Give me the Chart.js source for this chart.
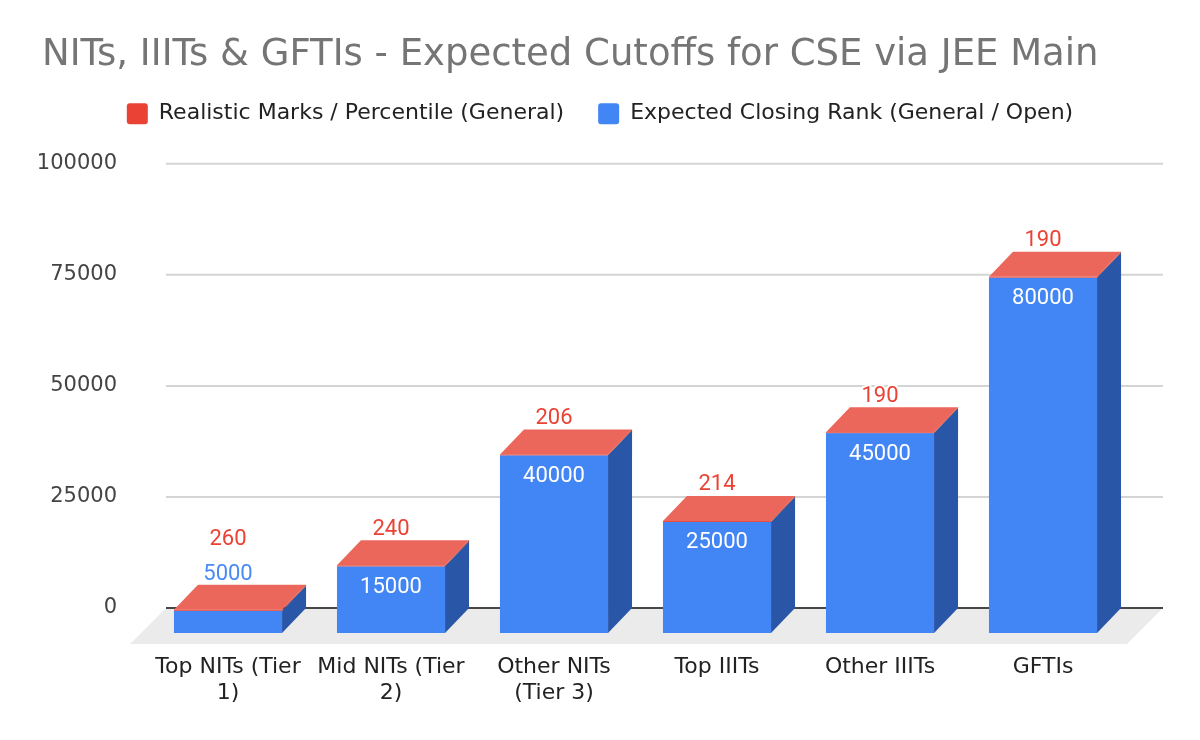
<!DOCTYPE html>
<html>
<head>
<meta charset="utf-8">
<title>NITs, IIITs &amp; GFTIs - Expected Cutoffs for CSE via JEE Main</title>
<script src="https://cdn.jsdelivr.net/npm/chart.js@4.4.1/dist/chart.umd.min.js"></script>
<style>
    html, body { margin: 0; padding: 0; background: #ffffff; }
    #wrap { width: 1200px; height: 740px; }
</style>
</head>
<body>
<div id="wrap"><canvas id="cutoffChart" width="1200" height="740"></canvas></div>
<script>
// chart data
const categories = [
    ['Top NITs (Tier', '1)'],
    ['Mid NITs (Tier', '2)'],
    ['Other NITs', '(Tier 3)'],
    'Top IIITs',
    'Other IIITs',
    'GFTIs'
];
const closingRanks = [5000, 15000, 40000, 25000, 45000, 80000];
const realisticMarks = [260, 240, 206, 214, 190, 190];
const yTicks = [0, 25000, 50000, 75000, 100000];

const seriesNames = ['Expected Closing Rank (General / Open)', 'Realistic Marks / Percentile (General)'];

// 3D look: depth of the boxes and of the floor (px)
const DX = 24;
const DY = 25;
const FLOOR = 36;

const faceColors = [
    { front: '#4285F4', side: '#2A56A7', top: '#5B95F5' },   // blue series
    { front: '#EA4335', side: '#A3322A', top: '#EC675B' }    // red series
];

const baseFont = "'DejaVu Sans', 'Liberation Sans', sans-serif";
const labelFont = "Roboto, 'Liberation Sans', sans-serif";

// push the legend down a bit so the plot starts lower
const legendGap = {
    id: 'legendGap',
    beforeInit(chart) {
        const originalFit = chart.legend.fit;
        chart.legend.fit = function fit() {
            originalFit.bind(chart.legend)();
            this.height += 29;
        };
    },
    // title starts a little right of the legend/axis block
    afterLayout(chart) {
        if (chart.titleBlock) {
            chart.titleBlock.left += 12;
            chart.titleBlock.right += 12;
        }
    }
};

function drawBox(ctx, bar, colors, withTop) {
    const { x, y, base, width } = bar.getProps(['x', 'y', 'base', 'width'], true);
    const left = x - width / 2 - DX;
    const right = x + width / 2 - DX;
    const top = y + DY;
    const bottom = base + DY;

    // side face
    ctx.fillStyle = colors.side;
    ctx.beginPath();
    ctx.moveTo(right, top);
    ctx.lineTo(right + DX, top - DY);
    ctx.lineTo(right + DX, bottom - DY);
    ctx.lineTo(right, bottom);
    ctx.closePath();
    ctx.fill();

    // front face
    ctx.fillStyle = colors.front;
    ctx.fillRect(left, top, right - left, bottom - top);

    if (withTop) {
        ctx.fillStyle = colors.top;
        ctx.beginPath();
        ctx.moveTo(left, top);
        ctx.lineTo(left + DX, top - DY);
        ctx.lineTo(right + DX, top - DY);
        ctx.lineTo(right, top);
        ctx.closePath();
        ctx.fill();
    }
}

function haloText(ctx, text, x, y, color) {
    ctx.lineWidth = 4;
    ctx.strokeStyle = '#ffffff';
    ctx.lineJoin = 'round';
    ctx.strokeText(text, x, y);
    ctx.fillStyle = color;
    ctx.fillText(text, x, y);
}

const boxes3d = {
    id: 'boxes3d',
    beforeDatasetsDraw(chart) {
        const { ctx, chartArea, scales: { y } } = chart;
        const gridLeft = chartArea.left - 4.5;
        const gridRight = chartArea.right + 14.5;
        const y0 = y.getPixelForValue(0);

        ctx.save();

        // back wall gridlines
        ctx.strokeStyle = '#d4d4d4';
        ctx.lineWidth = 2;
        y.ticks.forEach(t => {
            if (t.value === 0) return;
            const py = y.getPixelForValue(t.value);
            ctx.beginPath();
            ctx.moveTo(gridLeft, py);
            ctx.lineTo(gridRight, py);
            ctx.stroke();
        });

        // floor
        ctx.fillStyle = '#ebebeb';
        ctx.beginPath();
        ctx.moveTo(gridLeft, y0);
        ctx.lineTo(gridRight, y0);
        ctx.lineTo(gridRight - FLOOR, y0 + FLOOR);
        ctx.lineTo(gridLeft - FLOOR, y0 + FLOOR);
        ctx.closePath();
        ctx.fill();

        // zero line
        ctx.strokeStyle = '#474747';
        ctx.lineWidth = 2;
        ctx.beginPath();
        ctx.moveTo(gridLeft, y0);
        ctx.lineTo(gridRight, y0);
        ctx.stroke();

        const blueBars = chart.getDatasetMeta(0).data;
        const redBars = chart.getDatasetMeta(1).data;

        categories.forEach((cat, i) => {
            drawBox(ctx, blueBars[i], faceColors[0], false);
            drawBox(ctx, redBars[i], faceColors[1], true);
        });

        // value labels
        ctx.font = '22px ' + labelFont;
        ctx.textAlign = 'center';
        ctx.textBaseline = 'middle';
        categories.forEach((cat, i) => {
            const b = blueBars[i].getProps(['x', 'y', 'base'], true);
            const r = redBars[i].getProps(['y'], true);
            const cx = b.x - DX;
            const frontTop = b.y + DY;
            const frontHeight = b.base - b.y;
            let redY = r.y - 11;
            if (frontHeight > 34) {
                ctx.fillStyle = '#ffffff';
                ctx.fillText(String(closingRanks[i]), cx, frontTop + 21);
            } else {
                haloText(ctx, String(closingRanks[i]), cx, r.y - 10, '#4A8AF4');
                redY = r.y - 45;
            }
            haloText(ctx, String(realisticMarks[i]), cx, redY, '#EA4335');
        });

        ctx.restore();
        return false;
    }
};

new Chart(document.getElementById('cutoffChart'), {
    type: 'bar',
    data: {
        labels: categories,
        datasets: [
            {
                label: seriesNames[0],
                data: closingRanks,
                backgroundColor: faceColors[0].front,
                borderWidth: 0
            },
            {
                label: seriesNames[1],
                data: realisticMarks,
                backgroundColor: faceColors[1].front,
                borderWidth: 0
            }
        ]
    },
    options: {
        responsive: false,
        animation: false,
        devicePixelRatio: 1,
        layout: { padding: { left: 30, right: 30, top: 0, bottom: 0 } },
        datasets: {
            bar: { categoryPercentage: 1, barPercentage: 0.663 }
        },
        scales: {
            x: {
                stacked: true,
                grid: { display: false, drawTicks: false },
                border: { display: false },
                ticks: {
                    color: '#222222',
                    font: { family: baseFont, size: 22 },
                    padding: 46,
                    labelOffset: -DX,
                    maxRotation: 0,
                    autoSkip: false
                },
                afterFit(scale) { scale.height = 132; }
            },
            y: {
                stacked: true,
                min: 0,
                max: 100000,
                grid: { display: false, drawTicks: false },
                border: { display: false },
                ticks: {
                    color: '#444444',
                    font: { family: baseFont, size: 21 },
                    padding: 53.5,
                    callback: v => String(v)
                },
                afterBuildTicks(scale) {
                    scale.ticks = yTicks.map(v => ({ value: v }));
                },
                afterFit(scale) { scale.width = 140.5; }
            },
            yRight: {
                type: 'linear',
                position: 'right',
                grid: { display: false },
                border: { display: false },
                ticks: { display: false },
                afterFit(scale) { scale.width = 21.5; }
            }
        },
        plugins: {
            title: {
                display: true,
                text: 'NITs, IIITs & GFTIs - Expected Cutoffs for CSE via JEE Main',
                align: 'start',
                color: '#757575',
                font: { family: baseFont, size: 37, weight: 'normal', lineHeight: 0.75 },
                padding: { top: 42, bottom: -1 }
            },
            legend: {
                display: true,
                position: 'top',
                reverse: true,
                labels: {
                    color: '#222222',
                    font: { family: baseFont, size: 22 },
                    boxWidth: 21,
                    boxHeight: 21,
                    useBorderRadius: true,
                    borderRadius: 3,
                    padding: 34
                }
            },
            tooltip: { enabled: false }
        }
    },
    plugins: [legendGap, boxes3d]
});
</script>
</body>
</html>
